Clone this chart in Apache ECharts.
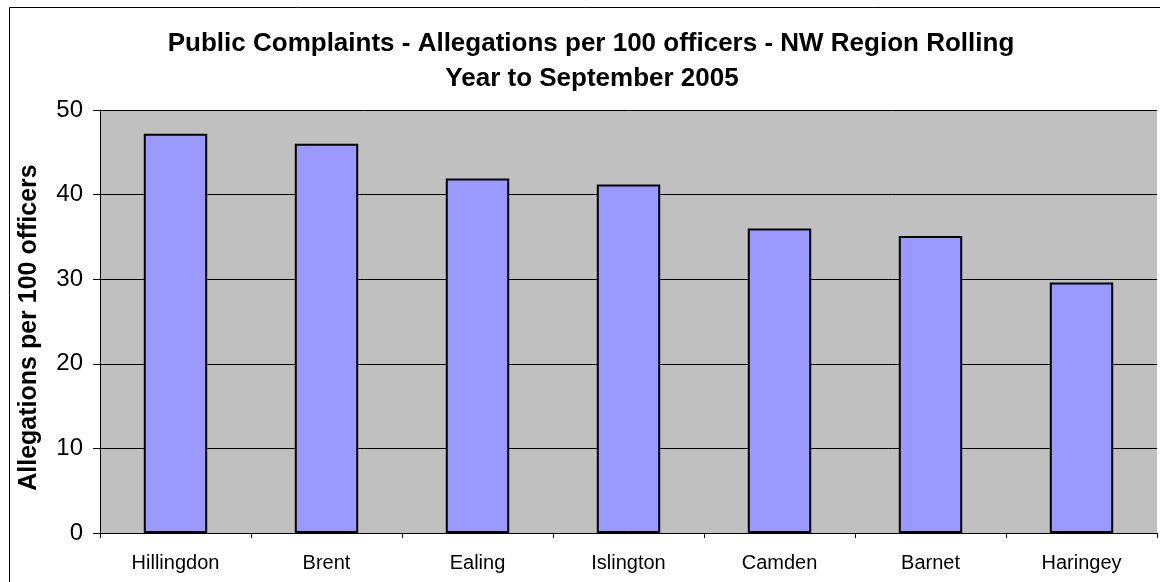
<!DOCTYPE html>
<html><head><meta charset="utf-8">
<script src="https://cdn.jsdelivr.net/npm/echarts@6/dist/echarts.min.js"></script>
<style>html,body{margin:0;padding:0;background:#fff}#c{width:1160px;height:582px}</style>
</head><body><div id="c"></div>
<script>
const categories = ['Hillingdon', 'Brent', 'Ealing', 'Islington', 'Camden', 'Barnet', 'Haringey'];
const allegations = [47.2, 46.0, 41.9, 41.2, 36.0, 35.1, 29.6];
const titleLines = ['Public Complaints - Allegations per 100 officers - NW Region Rolling', 'Year to September 2005'];
const yAxisName = 'Allegations per 100 officers';

const chart = echarts.init(document.getElementById('c'), null, {renderer: 'canvas'});
const FONT = 'Liberation Sans, Arial, sans-serif';
chart.setOption({
  animation: false,
  backgroundColor: '#fff',
  graphic: [
    {type: 'rect', shape: {x: 9.5, y: 7.5, width: 1200, height: 600}, style: {fill: 'none', stroke: '#000', lineWidth: 1}, z: 0},
    {type: 'text', x: 591, y: 44, style: {text: titleLines[0], fill: '#000', font: 'bold 26px ' + FONT, align: 'center', verticalAlign: 'middle'}},
    {type: 'text', x: 592, y: 79, style: {text: titleLines[1], fill: '#000', font: 'bold 26px ' + FONT, align: 'center', verticalAlign: 'middle'}}
  ],
  grid: {left: 100, right: 3, top: 110, bottom: 49, show: true, backgroundColor: '#C0C0C0', borderWidth: 0},
  xAxis: {
    type: 'category', data: categories,
    axisLine: {lineStyle: {color: '#000', width: 1}},
    axisTick: {show: true, alignWithLabel: false, length: 5, lineStyle: {color: '#000'}},
    axisLabel: {color: '#000', fontSize: 20, fontFamily: FONT, margin: 20}
  },
  yAxis: {
    type: 'value', min: 0, max: 50, interval: 10,
    name: yAxisName, nameLocation: 'middle', nameGap: 58,
    nameTextStyle: {color: '#000', fontSize: 25, fontWeight: 'bold', fontFamily: FONT, padding: [0, 12, 0, 0]},
    axisLine: {show: true, lineStyle: {color: '#000'}},
    axisTick: {show: true, length: 7, lineStyle: {color: '#000'}},
    axisLabel: {color: '#000', fontSize: 24, fontFamily: FONT, margin: 17},
    splitLine: {show: true, lineStyle: {color: '#000', width: 1}}
  },
  series: [{
    type: 'bar', data: allegations, barWidth: '42%',
    itemStyle: {color: '#9999FF', borderColor: '#000', borderWidth: 2}
  }]
});
</script></body></html>
